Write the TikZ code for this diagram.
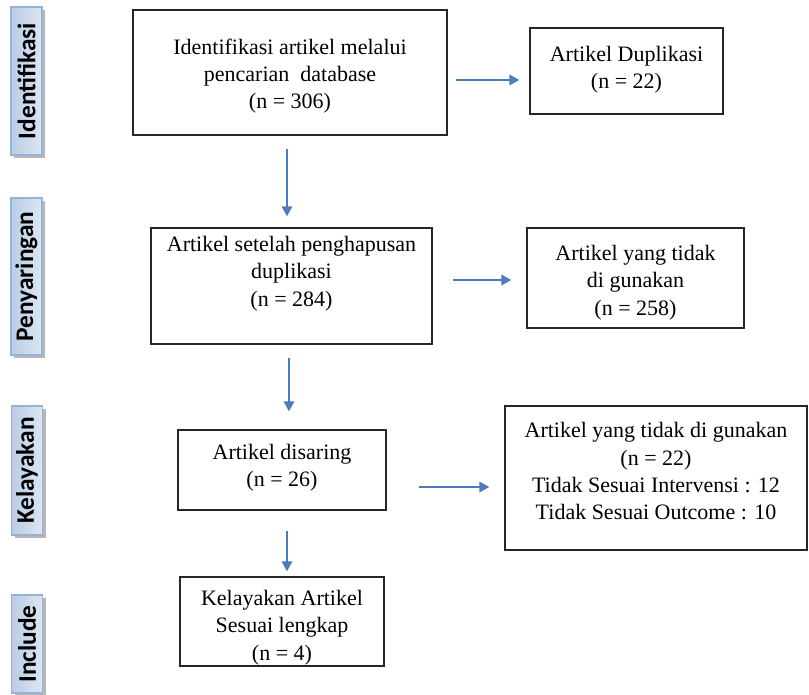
\documentclass[tikz,border=0pt]{standalone}
\usepackage{fontspec}
\setmainfont{Liberation Serif}
\newfontfamily\tabfont{Carlito}
\usetikzlibrary{arrows.meta,shadows}

\definecolor{flowblue}{HTML}{4A7EBB}
\definecolor{tabdark}{HTML}{B9CDE5}
\definecolor{tablight}{HTML}{DCE6F2}
\definecolor{tabedge}{HTML}{95B3D7}

\tikzset{
    box/.style={draw=black!85, line width=1.1pt, inner sep=0pt},
    txt/.style={align=center, inner sep=0pt, font=\fontsize{16.5}{20.5}\selectfont},
    stage/.style={draw=tabedge, line width=0.8pt, left color=tabdark, right color=tablight,
        rotate=90, minimum height=23.25pt, inner sep=0pt,
        font=\tabfont\bfseries\fontsize{19}{22}\selectfont,
        drop shadow={shadow xshift=2.5pt, shadow yshift=-2.5pt, fill=black!40, opacity=0.7}},
    flow/.style={draw=flowblue, line width=1.1pt, -{Triangle[length=7.5pt,width=8pt]}}
}

\begin{document}
\begin{tikzpicture}[x=0.75pt, y=-0.75pt]
    \useasboundingbox (0,0) rectangle (809,694);

    % stage tabs on the left
    \node[stage, minimum width=111pt] (tid) at (26.5,81) {Identifikasi};
    \node[stage, minimum width=117.75pt] (tpe) at (26.5,276.5) {Penyaringan};
    \node[stage, minimum width=96.75pt] (tke) at (27,470.5) {Kelayakan};
    \node[stage, minimum width=73.5pt] (tin) at (27,644) {Include};

    % boxes
    \node[box, minimum width=235.5pt, minimum height=93.75pt] (idn) at (290,72.5) {};
    \node[box, minimum width=144.75pt, minimum height=64.5pt] (dup) at (626.5,71) {};
    \node[box, minimum width=210.75pt, minimum height=87pt] (scr) at (291.5,286) {};
    \node[box, minimum width=162.75pt, minimum height=75pt] (unu) at (635.5,278) {};
    \node[box, minimum width=156pt, minimum height=60pt] (fil) at (282,470) {};
    \node[box, minimum width=226.5pt, minimum height=108pt] (exc) at (656,478) {};
    \node[box, minimum width=153pt, minimum height=66.75pt] (inc) at (282,621.5) {};

    % box texts
    \node[txt] (idn-t) at (290,76) {Identifikasi artikel melalui\\pencarian\ \ database\\(n = 306)};
    \node[txt] (dup-t) at (626.5,70) {Artikel Duplikasi\\(n = 22)};
    \node[txt] (scr-t) at (291.5,273.5) {Artikel setelah penghapusan\\duplikasi\\(n = 284)};
    \node[txt] (unu-t) at (635.5,282.5) {Artikel yang tidak\\di gunakan\\(n = 258)};
    \node[txt] (fil-t) at (282,467.5) {Artikel disaring\\(n = 26)};
    \node[txt] (exc-t) at (656,471.5) {Artikel yang tidak di gunakan\\(n = 22)\\Tidak Sesuai Intervensi : 12\\Tidak Sesuai Outcome : 10};
    \node[txt] (inc-t) at (282,627.5) {Kelayakan Artikel\\Sesuai lengkap\\(n = 4)};

    % arrows
    \draw[flow, shorten <=6pt, shorten >=7.5pt] ([yshift=-5.6pt]idn.east) -- ([yshift=-5.6pt]idn.east -| dup.west);
    \draw[flow, shorten <=15pt, shorten >=11.25pt] ([yshift=4.5pt]scr.east) -- ([yshift=4.5pt]scr.east -| unu.west);
    \draw[flow, shorten <=24pt, shorten >=11.25pt] ([yshift=-12.75pt]fil.east) -- ([yshift=-12.75pt]fil.east -| exc.west);
    \draw[flow, shorten <=9.75pt, shorten >=8.25pt] ([xshift=-2.25pt]idn.south) -- ([xshift=-2.25pt]idn.south |- scr.north);
    \draw[flow, shorten <=9.75pt, shorten >=13.5pt] ([xshift=-1.9pt]scr.south) -- ([xshift=-1.9pt]scr.south |- fil.north);
    \draw[flow, shorten <=15pt, shorten >=3.75pt] ([xshift=3.75pt]fil.south) -- ([xshift=3.75pt]fil.south |- inc.north);
\end{tikzpicture}
\end{document}
